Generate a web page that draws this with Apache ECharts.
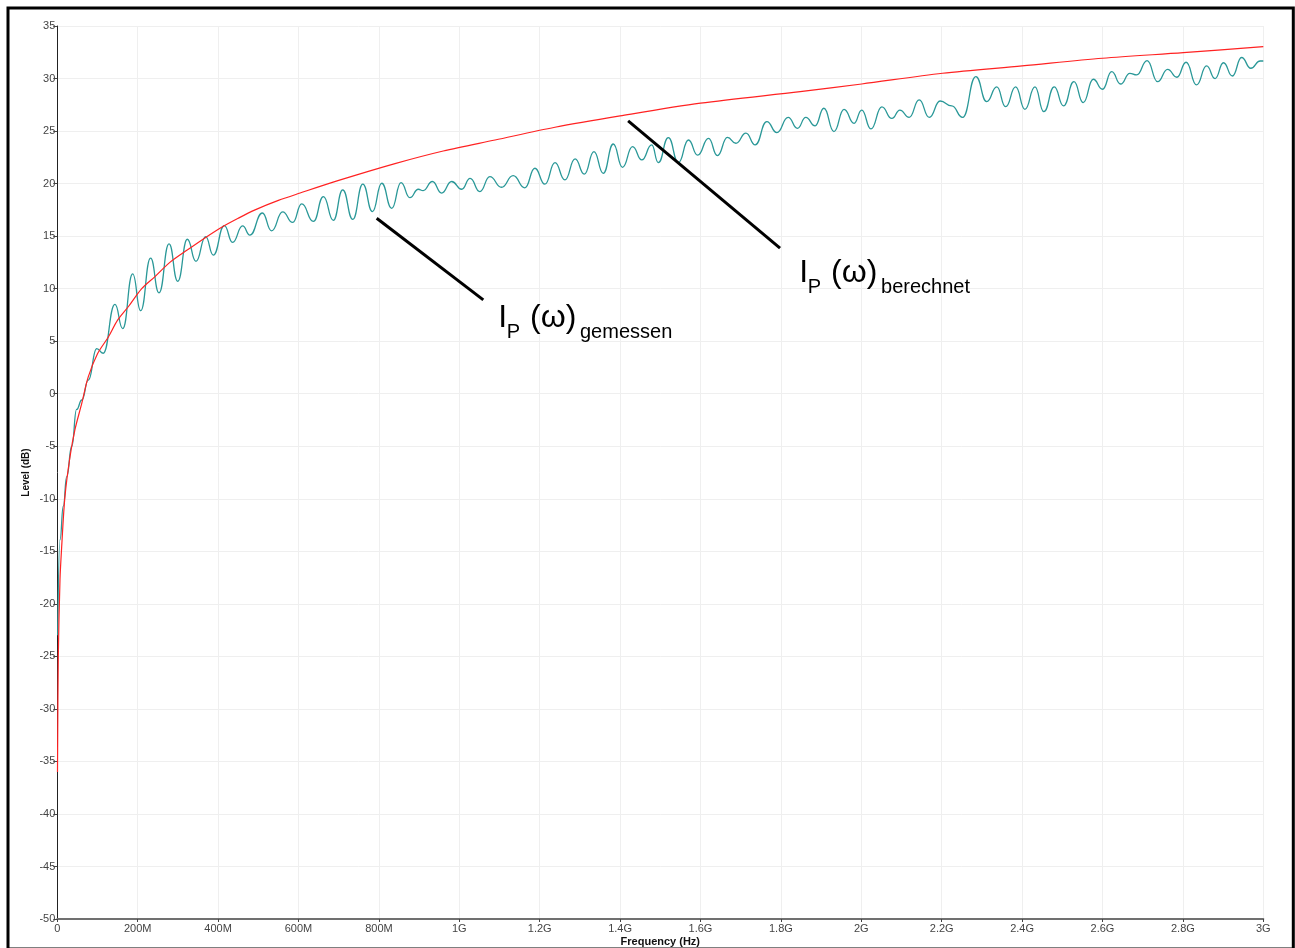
<!DOCTYPE html>
<html>
<head>
<meta charset="utf-8">
<script src="https://cdn.jsdelivr.net/npm/echarts@6/dist/echarts.min.js"></script>
<style>
html,body{margin:0;padding:0;background:#fff;overflow:hidden;}
#chart{width:1295px;height:948px;}
</style>
</head>
<body>
<div id="chart"></div>
<script>
// Frequency in MHz, level in dB
const freqMeasured = [1,6.7,15,23.4,36,48,61,77,98,114,143.5,162.7,187.5,207.4,232,253,278,299.5,323.5,345,369,388,415.5,436,461,479,510,533,560.7,585.5,
608,637,662,686.6,710,735,760,784,807,832,855,877,898,910,933,956,981,1006,1027,1051,1076,1105,1134,1163,1188,1213,1238,
1262.7,1288,1311,1335,1358,1383,1406,1431,1454,1478.6,1495,1520,1545,1570,1593,1620,1642,1667,1688,1713,1736,1765,1790,1818,
1841,1862,1885,1907,1932,1957,1982,2001,2024,2051,2076,2096,2119,2144,2169,2196,2225,2252,2285,2312,2337,2359,2384,2407,2432,2454,2480,2503,2529,2552,2577,2600,2623,2645,2668,2685,2711,2737,2762,2785,2808,2834,2859,2880,2901,2923,2946,2969,2992,3000];
const levelMeasured = [-23,-13.9,-10.7,-7.9,-5.0,-1.5,-0.6,1.3,4.3,3.85,8.5,6.2,11.4,7.9,12.9,9.6,14.26,10.7,14.7,12.6,14.95,13.2,16.0,14.4,15.97,15.1,17.2,15.5,17.3,16.3,
18.06,16.4,18.76,16.5,19.4,16.6,19.94,17.33,20.03,17.65,20.1,18.66,19.46,19.33,20.2,19.1,20.2,19.46,20.5,19.24,20.66,19.65,20.76,19.6,21.46,19.94,22.0,
20.35,22.35,20.9,23.04,20.98,23.77,21.55,23.52,22.25,23.68,22.0,24.37,22.0,24.15,22.7,24.3,22.66,24.4,23.84,24.8,23.68,25.9,24.85,26.3,
25.26,26.3,25.5,27.17,24.95,27.07,25.74,27.0,25.2,27.3,26.2,27.0,26.3,27.96,26.3,27.86,27.4,26.3,30.18,27.8,29.2,27.32,29.2,27.07,29.2,26.85,29.2,27.4,29.7,27.7,29.93,28.98,30.65,29.48,30.5,30.34,31.7,29.7,30.88,30.12,31.55,29.4,31.2,30.0,31.5,30.24,32.0,30.98,31.67,31.67];

const freqCalc = [0.5,2.5,6.7,11,19,31.6,44,61,77,100,127,150,177,210,243,280,326,370,409,450,492,550,604,700,840,960,1089,1238,1400,1600,1848,2001,2202,2400,2600,2801,3000];
const levelCalc = [-36,-25,-17.7,-14.5,-9.8,-6,-3.4,-0.9,1.6,3.8,5.4,7.0,8.3,10.0,11.15,12.5,13.75,14.9,15.85,16.7,17.5,18.4,19.1,20.3,21.9,23.1,24.15,25.36,26.44,27.65,28.75,29.48,30.5,31.2,31.93,32.46,33.03];

const xTicks = ['0','200M','400M','600M','800M','1G','1.2G','1.4G','1.6G','1.8G','2G','2.2G','2.4G','2.6G','2.8G','3G'];

// annotation pointer lines: [f1, v1, f2, v2]
const pointerLines = [[794.5,16.7,1059.7,8.93],[1420,25.96,1797.8,13.85]];
// label anchors: [f, v (main baseline), subscript text]
const labelAnchors = [[1097,6.14,'gemessen'],[1845.8,10.42,'berechnet']];

const chart = echarts.init(document.getElementById('chart'), null, {renderer:'canvas', width:1295, height:948});
const measured = freqMeasured.map((f,i)=>[f, levelMeasured[i]]);
const calc = freqCalc.map((f,i)=>[f, levelCalc[i]]);

const labelFont = 'Liberation Sans, Arial, sans-serif';

chart.setOption({
  animation:false,
  backgroundColor:'#fff',
  grid:{left:57.3, right:31.7, top:26, bottom:29, containLabel:false, outerBoundsMode:'none'},
  xAxis:{
    type:'value', min:0, max:3000, interval:200,
    name:'Frequency (Hz)', nameLocation:'middle', nameGap:17, nameMoveOverlap:false,
    nameTextStyle:{fontFamily:labelFont, fontWeight:'bold', fontSize:11, color:'#111'},
    axisLine:{show:true, onZero:false, lineStyle:{color:'#707070', width:2}},
    axisTick:{show:true, length:3, lineStyle:{color:'#444'}},
    axisLabel:{fontFamily:labelFont, fontSize:11, color:'#444', margin:4,
      formatter:(v)=>xTicks[Math.round(v/200)]},
    splitLine:{show:true, lineStyle:{color:'#efefef', width:1}}
  },
  yAxis:{
    type:'value', min:-50, max:35, interval:5,
    name:'Level (dB)', nameLocation:'middle', nameGap:26, nameRotate:90, nameMoveOverlap:false,
    nameTextStyle:{fontFamily:labelFont, fontWeight:'bold', fontSize:10, color:'#111'},
    axisLine:{show:true, onZero:false, lineStyle:{color:'#222', width:1}},
    axisTick:{show:true, length:4, lineStyle:{color:'#444'}},
    axisLabel:{fontFamily:labelFont, fontSize:11, color:'#444', margin:2},
    splitLine:{show:true, lineStyle:{color:'#efefef', width:1}}
  },
  series:[
    {
      type:'line', name:'gemessen', data:measured, showSymbol:false, symbol:'none',
      smooth:0.5, smoothMonotone:'x',
      lineStyle:{color:'#2a9898', width:1.3}, z:2
    },
    {
      type:'line', name:'berechnet', data:calc, showSymbol:false, symbol:'none',
      smooth:0.3,
      lineStyle:{color:'#ff2222', width:1.2}, z:3,
      markLine:{
        silent:true, symbol:['none','none'], label:{show:false},
        lineStyle:{color:'#000', width:3, type:'solid'},
        data: pointerLines.map(p=>[{coord:[p[0],p[1]]},{coord:[p[2],p[3]]}])
      }
    }
  ]
});

// Annotation labels: I_P (ω)_sub, anchored in data space
const graphics = [];
labelAnchors.forEach(a=>{
  const pt = chart.convertToPixel({gridIndex:0}, [a[0], a[1]]);
  const x0 = pt[0], base = pt[1];
  const subBase = base + 10.7;
  const pieces = [
    {t:'I', dx:0, size:32, b:base},
    {t:'P', dx:8.4, size:20, b:subBase},
    {t:'(\u03c9)', dx:31.7, size:32, b:base},
    {t:a[2], dx:81.7, size:20, b:subBase}
  ];
  pieces.forEach(p=>{
    graphics.push({
      type:'text', silent:true, z:10,
      style:{text:p.t, x:x0+p.dx, y:p.b - 0.35*p.size, fill:'#000',
        font: p.size+'px '+labelFont, textAlign:'left', textVerticalAlign:'middle',
        align:'left', verticalAlign:'middle'}
    });
  });
});
graphics.push({
  type:'rect', silent:true, z:20,
  shape:{x:8, y:8, width:1285.3, height:941},
  style:{fill:'none', stroke:'#000', lineWidth:3}
});
chart.setOption({graphic:graphics});
</script>
</body>
</html>
